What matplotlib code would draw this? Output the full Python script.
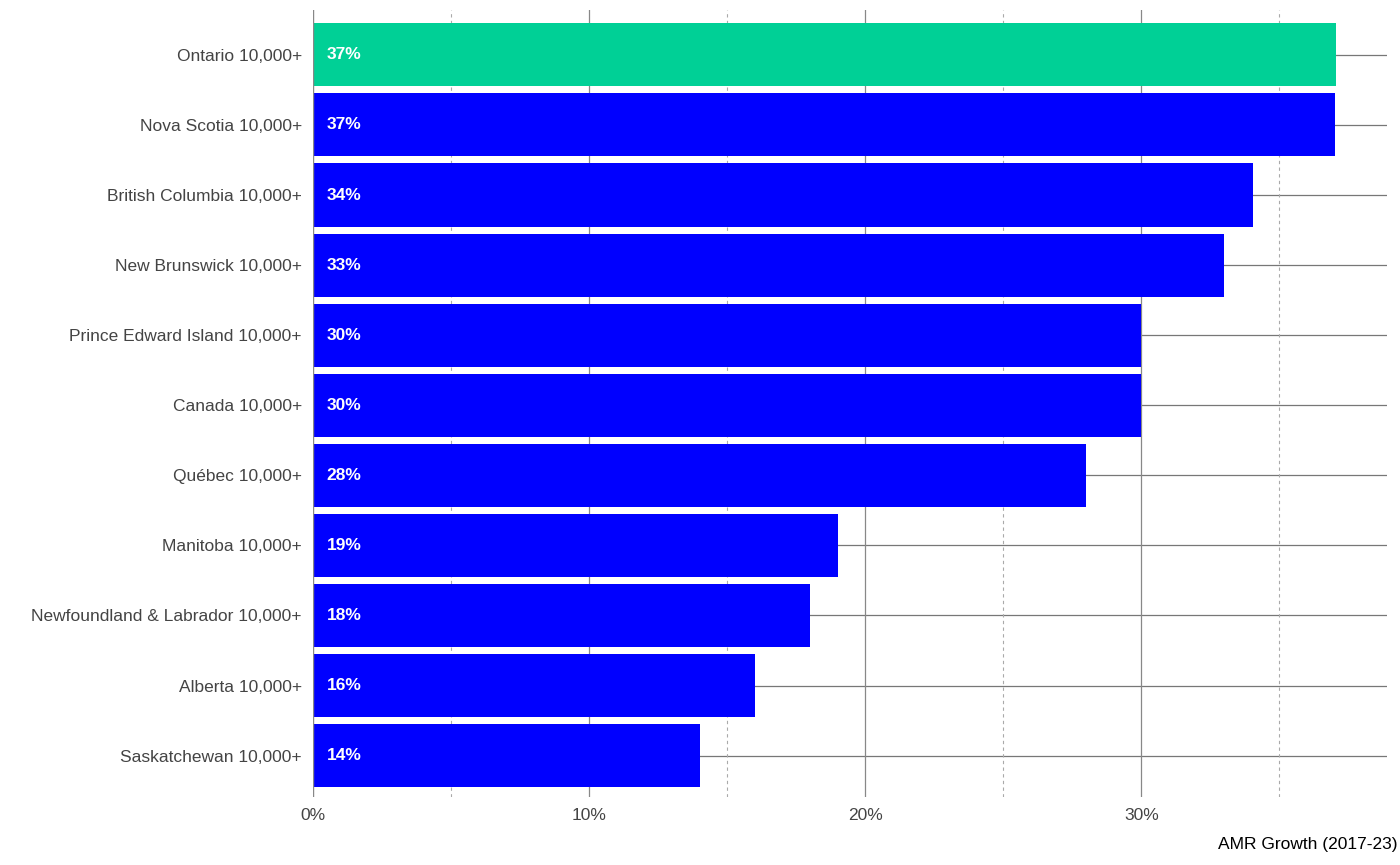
import matplotlib.pyplot as plt
import numpy as np

regions = ["Ontario 10,000+", "Nova Scotia 10,000+", "British Columbia 10,000+",
           "New Brunswick 10,000+", "Prince Edward Island 10,000+", "Canada 10,000+",
           "Québec 10,000+", "Manitoba 10,000+", "Newfoundland & Labrador 10,000+",
           "Alberta 10,000+", "Saskatchewan 10,000+"]
growth = [37.05, 37.0, 34.05, 33.0, 30.0, 30.0, 28.0, 19.0, 18.0, 16.0, 14.0]
labels = ["37%", "37%", "34%", "33%", "30%", "30%", "28%", "19%", "18%", "16%", "14%"]

plt.rcParams['font.family'] = ['Liberation Sans', 'DejaVu Sans']
fig = plt.figure(figsize=(14, 8.65), dpi=100)
ax = fig.add_axes([313/1400, 1 - 797/865, (1387-313)/1400, (797-10)/865])

n = len(regions)
ypos = np.arange(n)[::-1]
colors = ['#00d096'] + ['#0000ff'] * (n - 1)

# horizontal gridlines per category
for y in ypos:
    ax.axhline(y, color='#777777', lw=0.9, zorder=0)
for x in [10, 20, 30]:
    ax.axvline(x, color='#888888', lw=0.9, zorder=0)
for x in [5, 15, 25, 35]:
    ax.axvline(x, color='#aaaaaa', lw=0.8, ls=(0, (3, 3)), zorder=0)
ax.axvline(0, color='#888888', lw=1.0, zorder=3)

ax.barh(ypos, growth, height=0.9, color=colors, zorder=2)
for y, lab in zip(ypos, labels):
    ax.text(0.5, y, lab, color='white', fontweight='bold', fontsize=12.5,
            va='center', ha='left', zorder=4)

ax.set_xlim(0, 38.9)
ax.set_ylim(-0.59, n - 1 + 0.64)
ax.set_yticks(ypos)
ax.set_yticklabels(regions, fontsize=12.5, color='#444444')
ax.set_xticks([0, 10, 20, 30])
ax.set_xticklabels(["0%", "10%", "20%", "30%"], fontsize=12.5, color='#444444')
ax.tick_params(axis='both', length=0, pad=8)
for s in ax.spines.values():
    s.set_visible(False)

fig.text(1398/1400, 1 - 845/865, "AMR Growth (2017-23)", ha='right', va='center',
         fontsize=12.5, color='black')

fig.savefig("out.png", dpi=100)
